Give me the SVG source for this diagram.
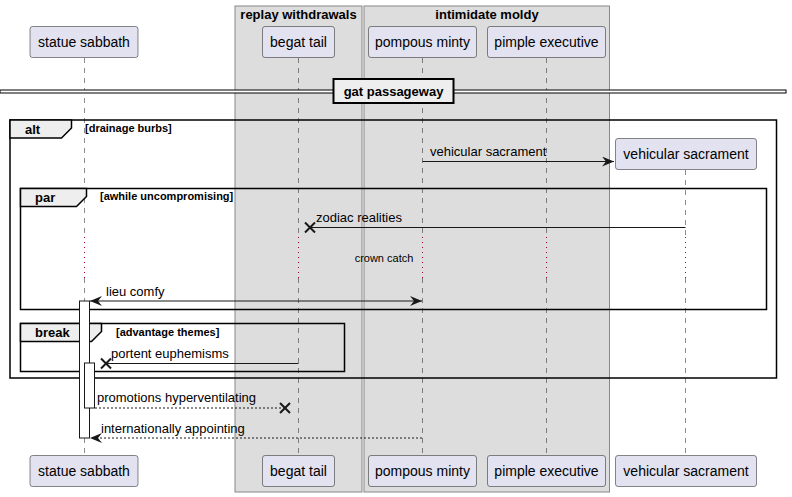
<svg xmlns="http://www.w3.org/2000/svg" width="792" height="497" viewBox="0 0 792 497">
<style>
.part{fill:#E2E2F0;stroke:#181818;stroke-width:0.5}
.ptxt{font-family:"Liberation Sans",Arial,sans-serif;font-size:14px;fill:#000;text-anchor:middle}
.life{stroke:#181818;stroke-width:0.5;stroke-dasharray:5,5;fill:none}
.delay{stroke:#A80036;stroke-width:1;stroke-dasharray:1,4;fill:none}
.grp{fill:#DDDDDD;stroke:#888;stroke-width:1}
.gtxt{font-family:"Liberation Sans",Arial,sans-serif;font-size:13px;font-weight:bold;text-anchor:middle}
.frame{fill:none;stroke:#000;stroke-width:1.5}
.tab{fill:#EEEEEE;stroke:#000;stroke-width:1.5}
.ftxt{font-family:"Liberation Sans",Arial,sans-serif;font-size:13px;font-weight:bold}
.ctxt{font-family:"Liberation Sans",Arial,sans-serif;font-size:11px;font-weight:bold}
.msg{stroke:#181818;stroke-width:1;fill:none}
.dash{stroke:#181818;stroke-width:1;fill:none;stroke-dasharray:2,2}
.mtxt{font-family:"Liberation Sans",Arial,sans-serif;font-size:13px;fill:#000}
.dtxt{font-family:"Liberation Sans",Arial,sans-serif;font-size:11px;fill:#000;text-anchor:middle}
.act{fill:#fff;stroke:#181818;stroke-width:1}
.x{stroke:#181818;stroke-width:2}
</style>
<defs>
<marker id="arr" viewBox="0 0 12 10" refX="12" refY="5" markerWidth="12" markerHeight="10" markerUnits="userSpaceOnUse" orient="auto-start-reverse">
<path d="M0,0 L12,5 L0,10 L4,5 Z" fill="#181818"/>
</marker>
</defs>
<rect width="792" height="497" fill="#fff"/>
<g id="box-replay">
<rect class="grp" x="235" y="6" width="127" height="486"/>
<text class="gtxt" x="298.5" y="19">replay withdrawals</text>
</g>
<g id="box-intimidate">
<rect class="grp" x="364" y="6" width="245.5" height="486"/>
<text class="gtxt" x="487" y="19">intimidate moldy</text>
</g>
<g id="lifelines">
<line class="life" x1="84.5" y1="58" x2="84.5" y2="237"/>
<line class="delay" x1="84.5" y1="237" x2="84.5" y2="278"/>
<line class="life" x1="84.5" y1="278" x2="84.5" y2="456"/>
<line class="life" x1="298.5" y1="58" x2="298.5" y2="237"/>
<line class="delay" x1="298.5" y1="237" x2="298.5" y2="278"/>
<line class="life" x1="298.5" y1="278" x2="298.5" y2="456"/>
<line class="life" x1="422.5" y1="58" x2="422.5" y2="237"/>
<line class="delay" x1="422.5" y1="237" x2="422.5" y2="278"/>
<line class="life" x1="422.5" y1="278" x2="422.5" y2="456"/>
<line class="life" x1="546.5" y1="58" x2="546.5" y2="237"/>
<line class="delay" x1="546.5" y1="237" x2="546.5" y2="278"/>
<line class="life" x1="546.5" y1="278" x2="546.5" y2="456"/>
<line class="life" x1="685.5" y1="170" x2="685.5" y2="237"/>
<line class="delay" x1="685.5" y1="237" x2="685.5" y2="278"/>
<line class="life" x1="685.5" y1="278" x2="685.5" y2="456"/>
</g>
<g id="divider">
<rect x="0" y="90" width="786" height="3" fill="#fff" stroke="#000" stroke-width="1"/>
<rect x="333.5" y="79" width="120" height="24" fill="#EEEEEE" stroke="#000" stroke-width="2"/>
<text class="gtxt" x="393.5" y="96">gat passageway</text>
</g>
<g id="frame-alt">
<rect class="frame" x="10" y="120" width="766.5" height="258"/>
<path class="tab" d="M10,120 H71.5 V128 L61.5,138 H10 Z"/>
<text class="ftxt" x="25" y="134">alt</text>
<text class="ctxt" x="85" y="132">[drainage burbs]</text>
</g>
<g id="frame-par">
<rect class="frame" x="20.5" y="188.5" width="746" height="121"/>
<path class="tab" d="M20.5,188.5 H86.5 V196.5 L76.5,206.5 H20.5 Z"/>
<text class="ftxt" x="35" y="202">par</text>
<text class="ctxt" x="100" y="200">[awhile uncompromising]</text>
</g>
<g id="frame-break">
<rect class="frame" x="20.5" y="323.5" width="324" height="48"/>
<path class="tab" d="M20.5,323.5 H101.5 V331.5 L91.5,341.5 H20.5 Z"/>
<text class="ftxt" x="35" y="337">break</text>
<text class="ctxt" x="116" y="336">[advantage themes]</text>
</g>
<g id="activations">
<rect class="act" x="79.5" y="301" width="10" height="137"/>
<rect class="act" x="84.5" y="363" width="10" height="45"/>
</g>
<g id="connectors">
<line class="msg" x1="422.5" y1="161.5" x2="614" y2="161.5" marker-end="url(#arr)"/>
<text class="mtxt" x="430" y="156">vehicular sacrament</text>
<line class="msg" x1="685.5" y1="227.5" x2="310" y2="227.5"/>
<path class="x" d="M305,222.5 L315,232.5 M305,232.5 L315,222.5"/>
<text class="mtxt" x="316" y="222">zodiac realities</text>
<text class="dtxt" x="384" y="262">crown catch</text>
<line class="msg" x1="90" y1="301" x2="422" y2="301" marker-start="url(#arr)" marker-end="url(#arr)"/>
<text class="mtxt" x="106" y="296">lieu comfy</text>
<line class="msg" x1="298.5" y1="363.5" x2="106" y2="363.5"/>
<path class="x" d="M101,358.5 L111,368.5 M101,368.5 L111,358.5"/>
<text class="mtxt" x="111" y="358">portent euphemisms</text>
<line class="dash" x1="95" y1="408" x2="285" y2="408"/>
<path class="x" d="M280,403 L290,413 M280,413 L290,403"/>
<text class="mtxt" x="97" y="402">promotions hyperventilating</text>
<line class="dash" x1="422" y1="438" x2="90" y2="438" marker-end="url(#arr)"/>
<text class="mtxt" x="101" y="433">internationally appointing</text>
</g>
<g id="p-statue">
<rect class="part" x="30" y="26.5" width="108" height="31" rx="2.5"/>
<text class="ptxt" x="84" y="47">statue sabbath</text>
<rect class="part" x="30" y="455.5" width="108" height="31" rx="2.5"/>
<text class="ptxt" x="84" y="476">statue sabbath</text>
</g>
<g id="p-begat">
<rect class="part" x="262.5" y="26.5" width="72" height="31" rx="2.5"/>
<text class="ptxt" x="298.5" y="47">begat tail</text>
<rect class="part" x="262.5" y="455.5" width="72" height="31" rx="2.5"/>
<text class="ptxt" x="298.5" y="476">begat tail</text>
</g>
<g id="p-pompous">
<rect class="part" x="368.5" y="26.5" width="108" height="31" rx="2.5"/>
<text class="ptxt" x="422.5" y="47">pompous minty</text>
<rect class="part" x="368.5" y="455.5" width="108" height="31" rx="2.5"/>
<text class="ptxt" x="422.5" y="476">pompous minty</text>
</g>
<g id="p-pimple">
<rect class="part" x="487.5" y="26.5" width="118" height="31" rx="2.5"/>
<text class="ptxt" x="546.5" y="47">pimple executive</text>
<rect class="part" x="487.5" y="455.5" width="118" height="31" rx="2.5"/>
<text class="ptxt" x="546.5" y="476">pimple executive</text>
</g>
<g id="p-vehicular">
<rect class="part" x="615.5" y="138.5" width="141" height="31" rx="2.5"/>
<text class="ptxt" x="686" y="159">vehicular sacrament</text>
<rect class="part" x="615.5" y="455.5" width="141" height="31" rx="2.5"/>
<text class="ptxt" x="686" y="476">vehicular sacrament</text>
</g>
</svg>
